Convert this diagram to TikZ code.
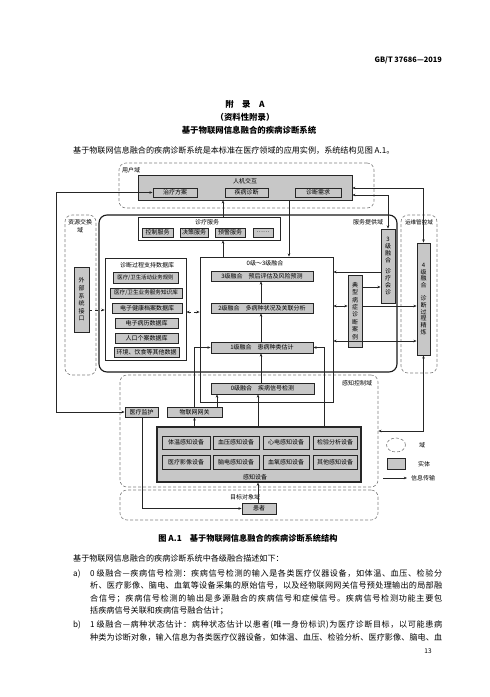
\documentclass[tikz,border=0pt]{standalone}
\usepackage{fontspec}
\setmainfont{Noto Sans CJK SC}
\usetikzlibrary{arrows.meta,fit,shapes.geometric}
\makeatletter
\newcommand\spreadline[1]{\makebox[352pt][s]{\@tfor\my@c:=#1\do{\my@c\hskip0pt plus 1fil\relax}\unskip}}
\makeatother
\newcommand\mybox[5]{\node[#2, fit={(#3) (#4)}] (#1) {};\node[t6] at (#1.center) {#5};}
\newcommand\vtext[3]{\node[align=center, font=\fontsize{6}{#2}\selectfont, inner sep=0pt] at (#1.center) {#3};}
\newcommand\jline[3]{\node[anchor=base west, inner sep=0pt, font=\fontsize{8.1}{9}\selectfont] at (#1,#2) {\spreadline{#3}};}
\begin{document}
\begin{tikzpicture}[x=1pt,y=-1pt,
  ln/.style={draw=black!85, line width=0.5pt},
  ent/.style={ln, fill=black!22, inner sep=0pt},
  entb/.style={ent, line width=0.9pt},
  wbox/.style={ln, fill=white, inner sep=0pt, line width=0.7pt},
  dom/.style={draw=black!50, dash pattern=on 3pt off 2pt, line width=0.6pt, rounded corners=7pt, inner sep=0pt},
  arr/.style={ln, -{Stealth[length=3.2pt,width=2.6pt]}},
  darr/.style={ln, {Stealth[length=3.2pt,width=2.6pt]}-{Stealth[length=3.2pt,width=2.6pt]}},
  t6/.style={font=\fontsize{6}{7}\selectfont, inner sep=0pt},
  body/.style={font=\fontsize{8.1}{9}\selectfont, inner sep=0pt},
  head/.style={font=\bfseries\fontsize{8.4}{9}\selectfont, inner sep=0pt}]
\useasboundingbox[fill=white] (0,0) rectangle (490,697);

% ---------- page text ----------
\node[font=\bfseries\fontsize{7.4}{8}\selectfont, anchor=east, inner sep=0pt] (hdr) at (442,60) {GB/T 37686—2019};
\node[head] (t1) at (245,104) {附　录　A};
\node[head] (t2) at (245,117) {（资料性附录）};
\node[head] (t3) at (249,130) {基于物联网信息融合的疾病诊断系统};
\node[body, anchor=base west] (p0) at (73,153) {基于物联网信息融合的疾病诊断系统是本标准在医疗领域的应用实例，系统结构见图 A.1。};

% ---------- domains ----------
\node[dom, fit={(119,163) (374,208)}] (ud) {};
\node[t6, anchor=west] (udl) at (122,170) {用户域};
\node[draw=black!90, line width=1.1pt, rounded corners=8pt, inner sep=0pt, fit={(99,215) (397,372)}] (spd) {};
\node[t6] (spdl) at (368,222) {服务提供域};
\node[dom, fit={(65,215) (96,375)}] (red) {};
\node[t6, align=center, font=\fontsize{6}{8}\selectfont] (redl) at (80,226) {资源交换\\域};
\node[dom, fit={(401,215) (437,373)}] (omd) {};
\node[inner sep=0pt, font=\fontsize{5.6}{6}\selectfont] (omdl) at (419,222) {运维管控域};
\node[dom, fit={(120,375) (378,487)}] (scd) {};
\node[t6] (scdl) at (357,383) {感知控制域};
\node[dom, fit={(120,490) (378,520)}] (tod) {};
\node[t6] (todl) at (245,497) {目标对象域};

% ---------- user domain ----------
\node[ent, fit={(138,175) (352,200)}] (hci) {};
\node[t6] (hcil) at (245,181) {人机交互};
\mybox{plan}{entb}{153,188}{197,197}{治疗方案}
\mybox{diag}{entb}{225,188}{268,197}{疾病诊断}
\mybox{req}{entb}{295,188}{341,197}{诊断需求}

% ---------- services ----------
\node[wbox, fit={(138,217) (280,240)}] (svc) {};
\node[t6] (svcl) at (207,222) {诊疗服务};
\mybox{s1}{entb}{142,228}{173,237}{控制服务}
\mybox{s2}{entb}{180,228}{208,237}{决策服务}
\mybox{s3}{entb}{215,228}{245,237}{预警服务}
\mybox{s4}{entb}{253,228}{273,237}{……}

% ---------- database ----------
\node[wbox, fit={(105,258) (186,360)}] (db) {};
\node[t6] (dbl) at (147,265) {诊断过程支持数据库};
\node[entb, fit={(113,272) (178,283)}] (d1) {};
\node[inner sep=0pt, font=\fontsize{5.4}{6}\selectfont] at (d1.center) {医疗/卫生活动业务规则};
\node[entb, fit={(110,288) (182,298)}] (d2) {};
\node[inner sep=0pt, font=\fontsize{5.6}{6}\selectfont] at (d2.center) {医疗/卫生业务服务知识库};
\mybox{d3}{entb}{112,303}{182,313}{电子健康档案数据库}
\mybox{d4}{entb}{115,318}{178,328}{电子病历数据库}
\mybox{d5}{entb}{115,333}{178,343}{人口个案数据库}
\mybox{d6}{entb}{114,347}{179,357}{环境、饮食等其他数据}

\node[entb, fit={(74,267) (89,332)}] (ext) {};
\vtext{ext}{7.6}{外\\部\\系\\统\\接\\口}

% ---------- fusion ----------
\node[ln, line width=0.8pt, inner sep=0pt, fit={(200,257) (333,402)}] (fus) {};
\node[t6] (fusl) at (265,263) {0级～3级融合};
\mybox{f3}{entb}{211,271}{313,281}{3级融合　预后评估及风险预测}
\mybox{f2}{entb}{211,303}{313,313}{2级融合　多病种状况及关联分析}
\mybox{f1}{entb}{211,342}{313,353}{1级融合　患病种类估计}
\mybox{f0}{entb}{211,383}{314,394}{0级融合　疾病信号检测}

\node[entb, fit={(381,229) (395,303)}] (l3c) {};
\vtext{l3c}{7}{3\\级\\融\\合\\[4pt]诊\\疗\\会\\诊}
\node[entb, fit={(348,275) (362,347)}] (case) {};
\vtext{case}{7.4}{典\\型\\病\\症\\诊\\断\\案\\例}
\node[entb, fit={(417,243) (430,355)}] (l4) {};
\vtext{l4}{6.8}{4\\级\\融\\合\\[6pt]诊\\断\\过\\程\\精\\炼}

% ---------- sensing ----------
\mybox{mon}{entb}{125,407}{158,417}{医疗监护}
\mybox{gw}{entb}{167,407}{222,417}{物联网网关}
\node[ent, line width=1.2pt, fit={(157,427) (361,482)}] (sens) {};
\node[t6] (sensl) at (255,477) {感知设备};
\mybox{e1}{entb}{162,436}{210,449}{体温感知设备}
\mybox{e2}{entb}{213,436}{259,449}{血压感知设备}
\mybox{e3}{entb}{263,436}{309,449}{心电感知设备}
\mybox{e4}{entb}{313,436}{357,449}{检验分析设备}
\mybox{e5}{entb}{162,455}{210,469}{医疗影像设备}
\mybox{e6}{entb}{213,455}{259,469}{脑电感知设备}
\mybox{e7}{entb}{263,455}{309,469}{血氧感知设备}
\mybox{e8}{entb}{313,455}{357,469}{其他感知设备}
\mybox{pat}{entb}{242,503}{276,514}{患者}

% ---------- legend ----------
\node[ellipse, dom, minimum width=19pt, minimum height=14pt] (lg1) at (396,445) {};
\node[t6] (lg1l) at (422,445) {域};
\node[ent, fit={(387,458) (405,469)}] (lg2) {};
\node[t6] (lg2l) at (424,464) {实体};
\coordinate (la1) at (383,478);
\coordinate (la2) at (407,478);
\draw[arr] (la1) -- (la2);
\node[t6, anchor=west] (lg3l) at (411,478) {信息传输};

% ---------- connectors ----------
\foreach \n/\x in {X56/56,X142/142,X217/217,X223/223,X258/258,X261/261,X289/289,X324/324}
  \coordinate (\n) at (\x,0);
\foreach \n/\y in {Y188/188,Y195/195,Y272/272,Y287/287,Y306/306,Y310/310,Y312/312,Y341/341,Y431/431}
  \coordinate (\n) at (0,\y);

\draw[arr] (fus.north -| X223) -- (svc.south -| X223);
\draw[arr] (svc.north -| X223) -- (hci.south -| X223);
\draw[arr] (hci.south -| X289) -- (fus.north -| X289);
\draw[darr] (hci.east |- Y188) -| (l4.north);
\draw[darr] (hci.east |- Y195) -| (l3c.north);
\draw[arr] (l3c.west |- Y272) -- (fus.east |- Y272);
\draw[arr] (case.east |- Y287) -- (l3c.west |- Y287);
\draw[darr] (fus.east |- Y306) -- (case.west |- Y306);
\draw[arr] (case.east |- Y306) -- (l4.west |- Y306);
\draw[darr] (fus.east |- Y341) -- (l4.west |- Y341);
\draw[arr, dashed, line width=0.8pt] (ext.east |- Y310) -- (db.west |- Y310);
\draw[darr, dashed, line width=0.8pt] (db.east |- Y312) -- (fus.west |- Y312);

\draw[arr] (f0.north -| X261) -- (f1.south -| X261);
\draw[arr] (f1.north -| X261) -- (f2.south -| X261);
\draw[arr] (f2.north -| X261) -- (f3.south -| X261);
\draw[arr] (sens.north -| X258) -- (f0.south -| X258);
\draw[arr] (gw.north -| X217) -- (f0.south -| X217);
\draw[arr] (gw.north) |- (f1.west);
\draw[arr] (sens.north -| X324) |- (f1.east);
\draw[arr] (sens.north -| gw.south) -- (gw.south);
\draw[arr] (pat.north -| X258) -- (sens.south -| X258);
\draw[arr] (mon.south -| X142) |- (pat.west);
\draw[darr] (mon.west) -- (mon.west -| X56) -- (plan.west -| X56) -- (plan.west);
\draw[darr] (l4.south) |- (scd.east |- Y431);

% ---------- caption and body ----------
\node[head, font=\bfseries\fontsize{8.2}{9}\selectfont] (cap) at (248,538) {图 A.1　基于物联网信息融合的疾病诊断系统结构};
\node[body, anchor=base west] (q0) at (73,561) {基于物联网信息融合的疾病诊断系统中各级融合描述如下：};
\node[body, anchor=base west] (qa) at (73,576) {a)};
\jline{90}{576}{{0\,}级融合—疾病信号检测：疾病信号检测的输入是各类医疗仪器设备，如体温、血压、检验分}
\jline{90}{588.5}{析、医疗影像、脑电、血氧等设备采集的原始信号，以及经物联网网关信号预处理输出的局部融}
\jline{90}{601}{合信号；疾病信号检测的输出是多源融合的疾病信号和症候信号。疾病信号检测功能主要包}
\node[body, anchor=base west] (q5) at (90,613.5) {括疾病信号关联和疾病信号融合估计；};
\node[body, anchor=base west] (qb) at (73,627) {b)};
\jline{90}{627}{{1\,}级融合—病种状态估计：病种状态估计以患者(唯一身份标识)为医疗诊断目标，以可能患病}
\jline{90}{640}{种类为诊断对象，输入信息为各类医疗仪器设备，如体温、血压、检验分析、医疗影像、脑电、血}
\node[inner sep=0pt, font=\fontsize{6.5}{7}\selectfont] (pg) at (428,651) {13};
\end{tikzpicture}
\end{document}
